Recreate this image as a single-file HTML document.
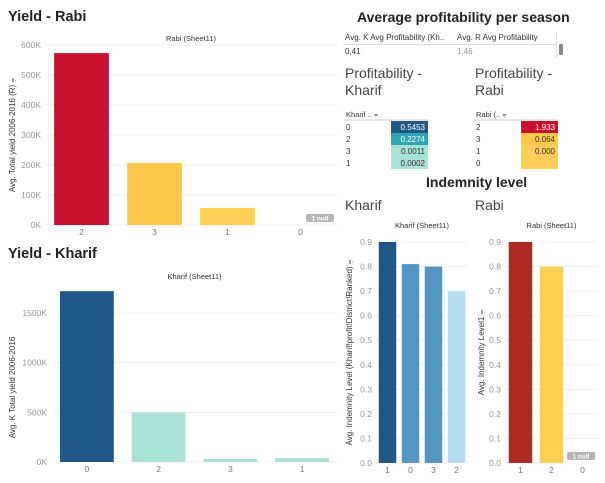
<!DOCTYPE html>
<html><head><meta charset="utf-8">
<style>
body{margin:0;width:605px;height:483px;background:#fff;font-family:"Liberation Sans",sans-serif;overflow:hidden;position:relative}
.t{position:absolute;white-space:nowrap}
svg{position:absolute;left:0;top:0}
</style></head><body>
<div class="t" style="left:8px;top:9px;font-size:14.5px;font-weight:bold;color:#222">Yield - Rabi</div>
<div class="t" style="left:8px;top:246px;font-size:14.5px;font-weight:bold;color:#222">Yield - Kharif</div>
<div class="t" style="left:357px;top:9px;font-size:14px;font-weight:bold;color:#222">Average profitability per season</div>
<div style="position:absolute;left:343px;top:32px;width:213px;height:26px;border-right:1px solid #ddd;font-size:8px;color:#333">
 <div class="t" style="left:2px;top:1px">Avg. K Avg Profitability (Kh..</div>
 <div class="t" style="left:114px;top:1px">Avg. R Avg Profitability</div>
 <div style="position:absolute;left:0;top:12px;width:213px;border-top:1px solid #ddd"></div>
 <div class="t" style="left:2px;top:15px">0,41</div>
 <div class="t" style="left:114px;top:15px;color:#999">1,46</div>
</div>
<div style="position:absolute;left:559px;top:44px;width:4px;height:11px;background:#888;border-radius:1px"></div>
<div class="t" style="left:345px;top:65px;font-size:14px;color:#444;line-height:17px">Profitability -<br>Kharif</div>
<div class="t" style="left:475px;top:65px;font-size:14px;color:#444;line-height:17px">Profitability -<br>Rabi</div>
<div class="t" style="left:426px;top:174px;font-size:14px;font-weight:bold;color:#222">Indemnity level</div>
<div class="t" style="left:345px;top:197px;font-size:14px;color:#444">Kharif</div>
<div class="t" style="left:475px;top:197px;font-size:14px;color:#444">Rabi</div>
<svg id="s" width="605" height="483" font-family="Liberation Sans, sans-serif"></svg>
<script>
// data
const rabiYieldCats=["2","3","1","0"];
const rabiYieldVals=[573000,207000,57000,null];
const rabiYieldColors=["#c8102e","#fdc84a","#fdd055","#fdd055"];
const rabiYieldTicks=[0,100000,200000,300000,400000,500000,600000];
const khYieldCats=["0","2","3","1"];
const khYieldVals=[1720000,500000,30000,40000];
const khYieldColors=["#1f5886","#a9e2d6","#a9e2d6","#a9e2d6"];
const khYieldTicks=[0,500000,1000000,1500000];
const khIndCats=["1","0","3","2"];
const khIndVals=[0.9,0.81,0.80,0.70];
const khIndColors=["#1f5886","#5297c4","#5297c4","#b3def2"];
const rbIndCats=["1","2","0"];
const rbIndVals=[0.9,0.8,null];
const rbIndColors=["#ac2c23","#fcd052","#fcd052"];
const indTicks=[0,0.1,0.2,0.3,0.4,0.5,0.6,0.7,0.8,0.9];
const khTabCats=["0","2","3","1"];
const khTabVals=["0.5453","0.2274","0.0011","0.0002"];
const khTabColors=["#1f5886","#2aa6b5","#a9e2d6","#a9e2d6"];
const khTabText=["#fff","#fff","#333","#333"];
const rbTabCats=["2","3","1","0"];
const rbTabVals=["1.933","0.064","0.000",""];
const rbTabColors=["#c8102e","#fdc84a","#fdd055","#fdd055"];
const rbTabText=["#fff","#333","#333","#333"];

const S=document.getElementById('s');const NS='http://www.w3.org/2000/svg';
function mk(t,a,txt){const e=document.createElementNS(NS,t);for(const k in a)e.setAttribute(k,a[k]);if(txt!=null)e.textContent=txt;S.appendChild(e);return e;}
function chart(o){
 const y=v=>o.base-(v/o.max)*(o.base-o.top);
 const cw=(o.x1-o.x0)/o.cats.length;
 let h=mk('text',{x:(o.x0+o.x1)/2,y:o.hy,'font-size':7.5,fill:'#333','text-anchor':'middle'},o.header);
 
 
 o.ticks.forEach(t=>{
  const l=mk('line',{x1:o.x0,x2:o.x1,y1:y(t),y2:y(t),stroke:'#f0f0f0','stroke-width':1});
  
  
  const tx=mk('text',{x:o.x0-4,y:y(t)+3,'font-size':8.5,fill:'#999','text-anchor':'end'},o.fmt(t));
  
  
 });
 o.cats.forEach((c,i)=>{
  const cx=o.x0+cw*(i+0.5);
  if(o.vals[i]!=null){
   const r=mk('rect',{x:cx-cw*o.bw/2,y:y(o.vals[i]),width:cw*o.bw,height:o.base-y(o.vals[i]),fill:o.colors[i]});
   
   
  }
  const l=mk('text',{x:cx,y:o.base+10,'font-size':8.5,fill:'#777','text-anchor':'middle'},c);
  
  
 });
 const a=mk('text',{x:o.ax,y:(o.top+o.base)/2,'font-size':8,fill:'#333','text-anchor':'middle',transform:`rotate(-90 ${o.ax} ${(o.top+o.base)/2})`},o.title);
 
 
 if(o.nullx){
  const b=mk('rect',{x:o.nullx,y:o.base-11,width:28,height:8,rx:2,fill:'#b5b5b5'});
  
  
  mk('text',{x:o.nullx+14,y:o.base-4.5,'font-size':6.5,fill:'#fff','text-anchor':'middle','font-weight':'bold'},'1 null');
 }
}
const kf=v=>Math.round(v/1000)+'K';
chart({name:'yield-rabi',cats:rabiYieldCats,vals:rabiYieldVals,colors:rabiYieldColors,ticks:rabiYieldTicks,max:600000,top:45,base:225,x0:45,x1:337,bw:0.75,hy:41,header:'Rabi (Sheet11)',ax:15,title:'Avg. Total yield 2006-2016 (R) ⩦',fmt:kf,nullx:306});
chart({name:'yield-kharif',cats:khYieldCats,vals:khYieldVals,colors:khYieldColors,ticks:khYieldTicks,max:1500000,top:313,base:462,x0:51,x1:338,bw:0.75,hy:279,header:'Kharif (Sheet11)',ax:15,title:'Avg. K Total yield 2006-2016',fmt:kf});
const df=v=>v.toFixed(1);
chart({name:'indemnity-kharif',cats:khIndCats,vals:khIndVals,colors:khIndColors,ticks:indTicks,max:0.9,top:242,base:463,x0:376,x1:468,bw:0.76,hy:228,header:'Kharif (Sheet11)',ax:352,title:'Avg. Indemnity Level (Kharif!profit!District!Ranked) ⩦',fmt:df});
chart({name:'indemnity-rabi',cats:rbIndCats,vals:rbIndVals,colors:rbIndColors,ticks:indTicks,max:0.9,top:242,base:463,x0:505,x1:598,bw:0.76,hy:228,header:'Rabi (Sheet11)',ax:484,title:'Avg. Indemnity Level1 ⩦',fmt:df,nullx:567});
function table(o){
 const h=mk('text',{x:o.x,y:117,'font-size':7.5,fill:'#333'},o.head);
 
 
 mk('line',{x1:o.x-2,x2:o.cx+37,y1:120,y2:120,stroke:'#ccc'});
 o.cats.forEach((c,i)=>{
  const yy=121+i*12;
  const r=mk('rect',{x:o.cx,y:yy,width:37,height:12,fill:o.colors[i]});
  
  
  const l=mk('text',{x:o.x,y:yy+9,'font-size':8,fill:'#333'},c);
  
  
  const v=mk('text',{x:o.cx+34,y:yy+9,'font-size':8,fill:o.text[i],'text-anchor':'end'},o.vals[i]);
  
  
 });
}
table({name:'profit-kharif',cats:khTabCats,vals:khTabVals,colors:khTabColors,text:khTabText,x:346,cx:391,head:'Kharif .. ⩦'});
table({name:'profit-rabi',cats:rbTabCats,vals:rbTabVals,colors:rbTabColors,text:rbTabText,x:476,cx:521,head:'Rabi (.. ⩦'});
</script>
</body></html>
